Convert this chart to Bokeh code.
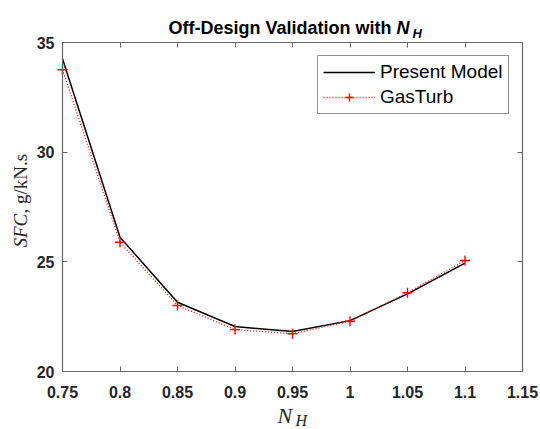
from bokeh.plotting import figure
from bokeh.models import Range1d, LinearAxis, Label, Legend, LegendItem, FixedTicker
from bokeh.embed import file_html
from bokeh.resources import INLINE

# ---- data ----
nh = [0.75, 0.8, 0.85, 0.9, 0.95, 1.0, 1.05, 1.1]
present_model = [34.26, 26.12, 23.16, 22.05, 21.82, 22.32, 23.54, 24.94]
gasturb = [33.76, 25.89, 23.01, 21.91, 21.72, 22.29, 23.59, 25.06]
x_ticks = [0.75, 0.8, 0.85, 0.9, 0.95, 1.0, 1.05, 1.1, 1.15]
y_ticks = [20, 25, 30, 35]
x_lim = (0.75, 1.15)
y_lim = (20, 35)

# ---- layout (pixels) ----
W, H = 540, 429
PX_L, PX_R, PX_T, PX_B = 62, 522, 42, 371
kx = (PX_R - PX_L) / (x_lim[1] - x_lim[0])
ky = (PX_B - PX_T) / (y_lim[1] - y_lim[0])
xs = x_lim[0] - PX_L / kx
ye = y_lim[1] + PX_T / ky

AX = "#666666"
TXT = "#262626"

p = figure(width=W, height=H, output_backend="svg", toolbar_location=None, title=None,
           x_range=Range1d(xs, xs + W / kx), y_range=Range1d(ye - H / ky, ye),
           min_border=0)
p.xgrid.visible = False
p.ygrid.visible = False
p.outline_line_color = None
p.background_fill_color = "white"
p.border_fill_color = "white"

def style(ax, ticks, bounds, loc, show):
    ax.ticker = FixedTicker(ticks=ticks)
    ax.bounds = bounds
    ax.fixed_location = loc
    ax.axis_line_color = AX
    ax.axis_line_width = 1.2
    ax.major_tick_line_color = AX
    ax.major_tick_line_width = 1
    ax.major_tick_in = 5
    ax.major_tick_out = 0
    ax.minor_tick_line_color = None
    ax.major_label_text_font = "Liberation Sans"
    ax.major_label_text_font_style = "bold"
    if show:
        ax.major_label_text_color = TXT
        ax.major_label_text_font_size = "16px"
    else:
        ax.major_label_text_color = None
        ax.major_label_text_alpha = 0
        ax.major_label_text_font_size = "0px"

style(p.xaxis[0], x_ticks, x_lim, y_lim[0], True)
style(p.yaxis[0], y_ticks, y_lim, x_lim[0], True)
p.xaxis[0].major_label_standoff = 14
p.yaxis[0].major_label_standoff = 8
p.xaxis[0].major_label_overrides = {1.0: "1"}

top = LinearAxis()
right = LinearAxis()
style(top, x_ticks, x_lim, y_lim[1], False)
style(right, y_ticks, y_lim, x_lim[1], False)
p.add_layout(top, "above")
p.add_layout(right, "right")

l1 = p.line(nh, present_model, line_color="black", line_width=1.5)
l2 = p.line(nh, gasturb, line_color="red", line_width=1.3, line_dash="1 2")
s2 = p.scatter(nh, gasturb, marker="cross", size=10, line_color="red", line_width=1.4)

legend = Legend(items=[LegendItem(label="Present Model", renderers=[l1]),
                       LegendItem(label="GasTurb", renderers=[l2, s2])],
                location=(317, H - 114), label_text_font="Liberation Sans",
                label_text_font_size="19px", label_text_color="black",
                glyph_width=52, glyph_height=20, label_standoff=5, spacing=3,
                padding=5, margin=0, border_line_color=TXT, border_line_width=1,
                background_fill_alpha=1.0)
p.add_layout(legend, "center")

# texts positioned in canvas pixels (top-left origin), converted to frame screen units
def lab(px, py, text, **kw):
    p.add_layout(Label(x=px, y=H - py, x_units="screen", y_units="screen", text=text,
                       text_baseline="alphabetic", **kw))

# title
lab(391, 27.7, "Off-Design Validation with", text_font="Liberation Sans", text_font_style="bold",
    text_font_size="18px", text_align="right", text_color="black")
lab(396, 27.7, "N", text_font="Liberation Sans", text_font_style="bold italic",
    text_font_size="18px", text_align="left", text_color="black")
lab(412, 33, "H", text_font="Liberation Sans", text_font_style="bold italic",
    text_font_size="13px", text_align="left", text_color="black")

# x axis label
lab(277, 415, "N", text_font="Liberation Serif", text_font_style="italic",
    text_font_size="22px", text_align="left", text_color=TXT)
lab(295, 420, "H", text_font="Liberation Serif", text_font_style="italic",
    text_font_size="16px", text_align="left", text_color=TXT)

# y axis label (rotated)
lab(20, 247, "SFC", text_font="Liberation Serif", text_font_style="italic", angle=1.5708,
    text_font_size="19px", text_align="left", text_color=TXT)
lab(20, 213, ", g/kN.s", text_font="Liberation Serif", text_font_style="normal", angle=1.5708,
    text_font_size="19px", text_align="left", text_color=TXT)

open("out.html", "w").write(file_html(p, INLINE))
